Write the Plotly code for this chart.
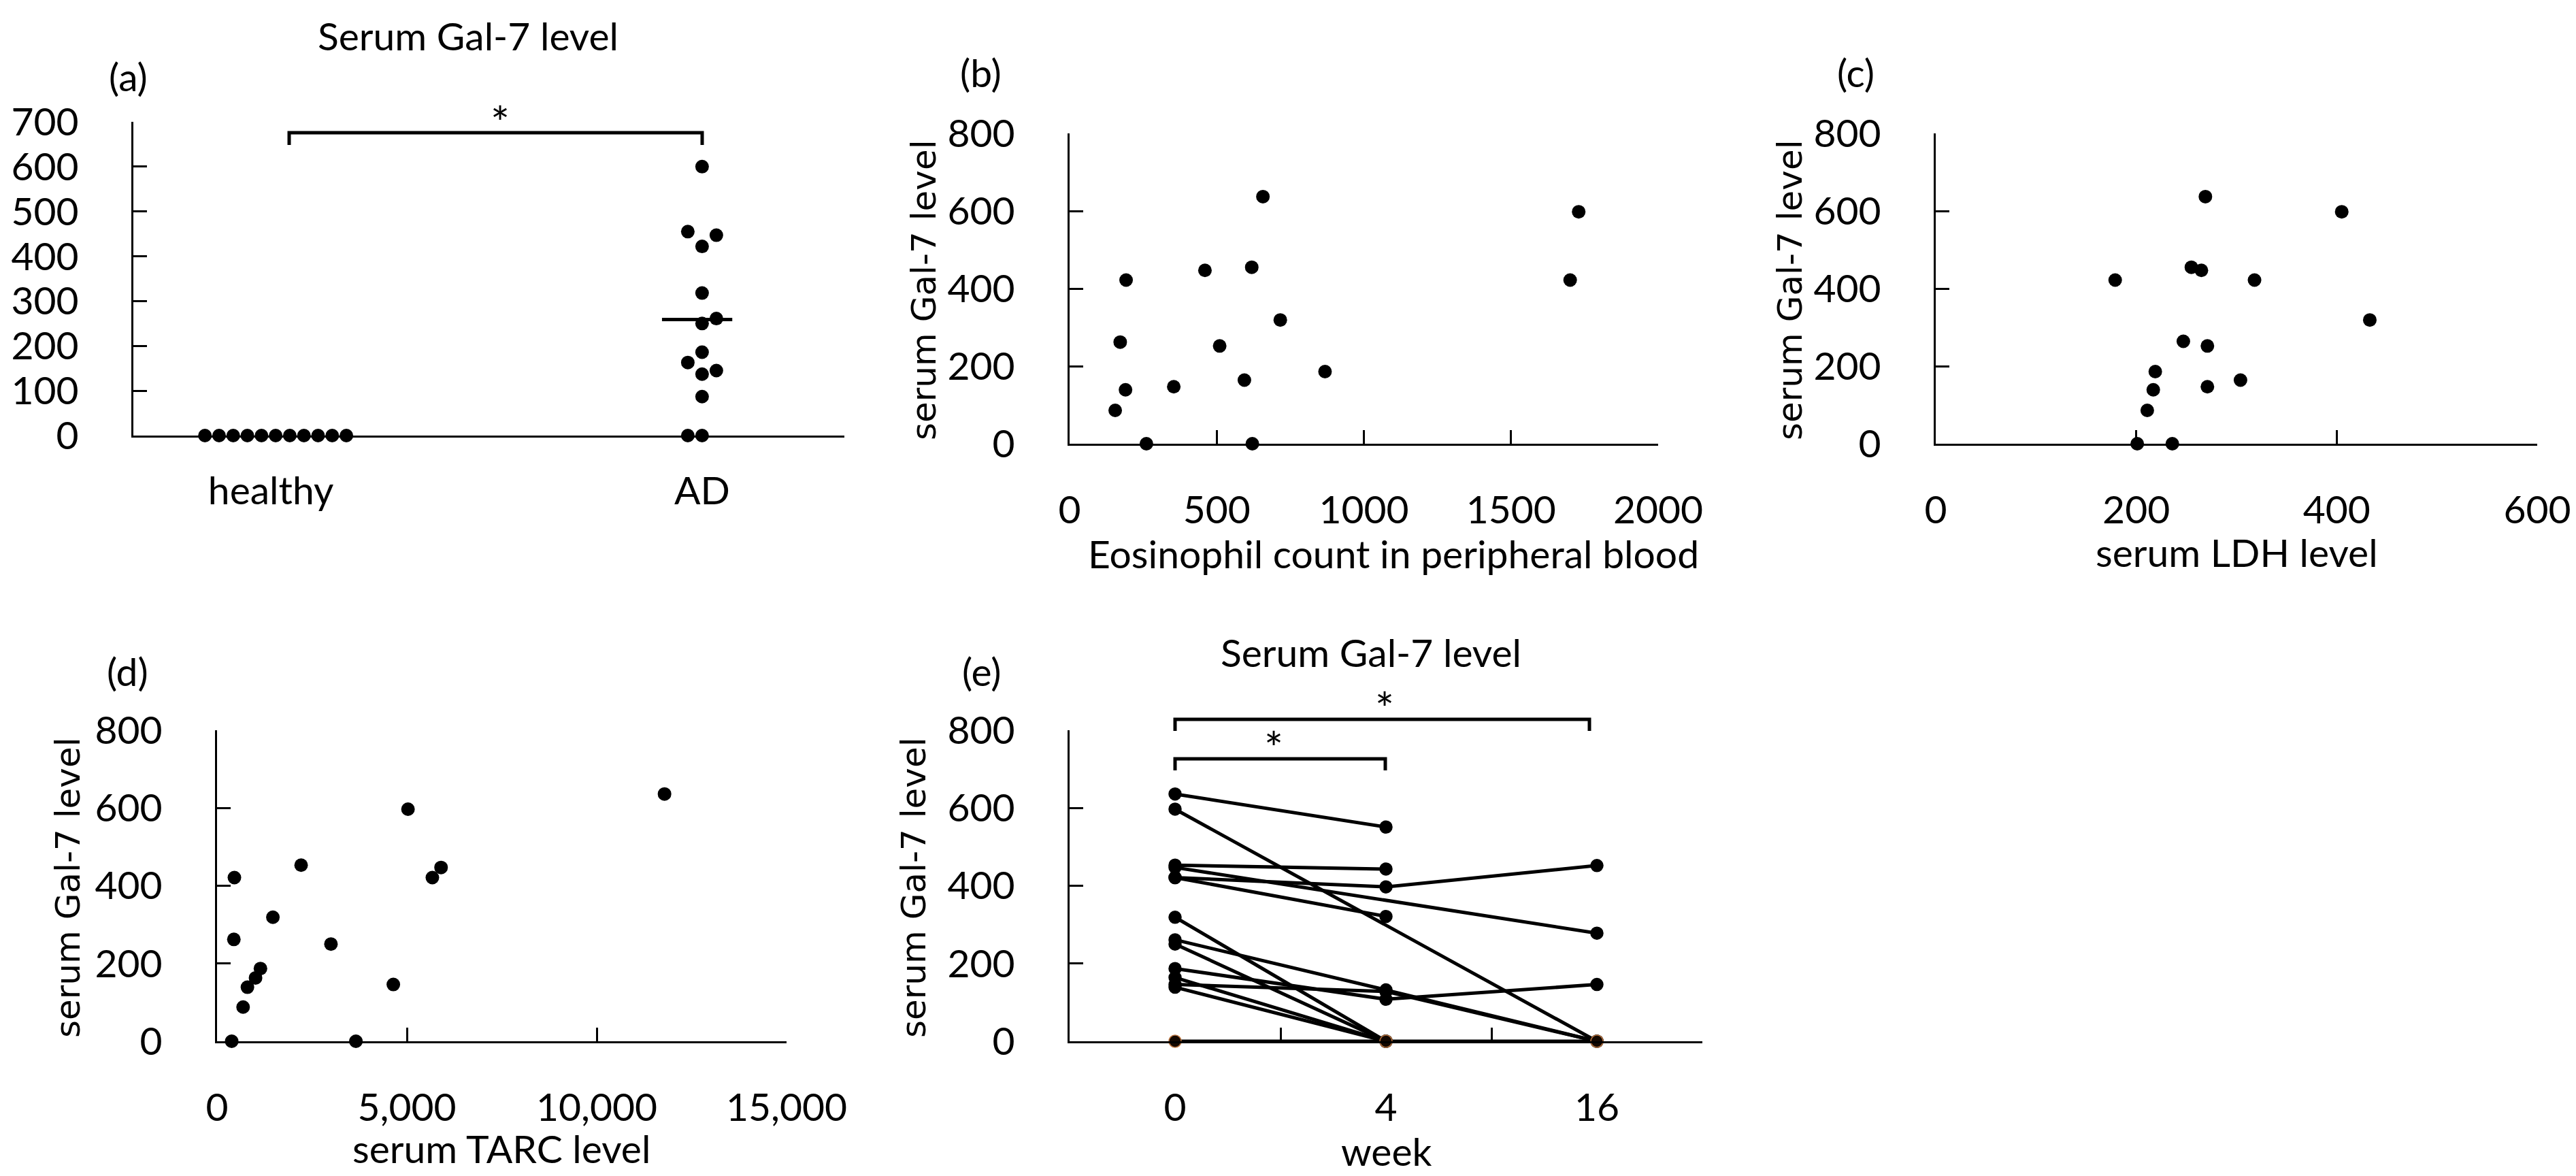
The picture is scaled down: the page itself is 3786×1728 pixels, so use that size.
import plotly.graph_objects as go

# ---- data ----
healthy_vals = [0, 0, 0, 0, 0, 0, 0, 0, 0, 0, 0]
ad_vals = [600, 455, 447, 422, 318, 261, 250, 186, 163, 145, 137, 87, 0, 0]
ad_slot = [0, -1, 1, 0, 0, 1, 0, 0, -1, 1, 0, 0, -1, 0]   # beeswarm column
ad_median = 259
groups = ["healthy", "AD"]

eos_count = [657, 1730, 460, 619, 192, 1701, 716, 172, 510, 868, 594, 354, 190, 155, 261, 621]
eos_gal7 = [637, 598, 447, 455, 422, 422, 319, 262, 252, 186, 164, 147, 139, 86, 0, 0]

ldh_level = [269, 405, 255, 265, 179, 318, 433, 247, 271, 219, 304, 271, 217, 211, 201, 236]
ldh_gal7 = [637, 598, 455, 447, 422, 422, 319, 264, 252, 186, 164, 147, 139, 86, 0, 0]

tarc_level = [11786, 5029, 2214, 5900, 5671, 457, 1471, 443, 3000, 1143, 1014, 4643, 800, 686, 386, 3657]
tarc_gal7 = [636, 597, 453, 447, 421, 421, 319, 262, 250, 187, 163, 146, 139, 88, 0, 0]

weeks = ["0", "4", "16"]
patients = [
    [636, 551, None],
    [597, None, 0],
    [453, 443, None],
    [447, None, 278],
    [421, 397, 452],
    [421, 321, None],
    [319, 0, None],
    [261, 132, 0],
    [250, 0, None],
    [187, 108, 146],
    [164, 0, None],
    [146, 128, 0],
    [139, 0, None],
    [0, 0, 0],
]

# ---- layout helpers (pixel boxes on a 3786x1728 page) ----
W, H = 3786, 1728
CAL = "Lato, Carlito, Calibri, sans-serif"
VER = "DejaVu Sans, Verdana, sans-serif"


def px(x):
    return x / W


def py(y):
    return 1 - y / H


boxes = {  # x0, x1, ytop, ybottom
    "a": (188, 1233, 171, 632),
    "b": (1564, 2429, 188, 644),
    "c": (2837, 3721, 188, 644),
    "d": (311, 1148, 1065, 1522),
    "e": (1564, 2494, 1065, 1522),
}

fig = go.Figure()
dot = dict(color="black", size=20)

# (a) dot plot
step = 0.0328
hx = [0.011 + (i - (len(healthy_vals) - 1) / 2) * step for i in range(len(healthy_vals))]
fig.add_trace(go.Scatter(x=hx, y=healthy_vals, mode="markers", marker=dot,
                         xaxis="x", yaxis="y", cliponaxis=False))
fig.add_trace(go.Scatter(x=[1 + s * 0.0331 for s in ad_slot], y=ad_vals, mode="markers",
                         marker=dot, xaxis="x", yaxis="y", cliponaxis=False))
fig.add_trace(go.Scatter(x=[0.907, 1.07], y=[ad_median, ad_median], mode="lines",
                         line=dict(color="black", width=5), xaxis="x", yaxis="y"))

# (b)-(d) scatter plots
fig.add_trace(go.Scatter(x=eos_count, y=eos_gal7, mode="markers", marker=dot,
                         xaxis="x2", yaxis="y2", cliponaxis=False))
fig.add_trace(go.Scatter(x=ldh_level, y=ldh_gal7, mode="markers", marker=dot,
                         xaxis="x3", yaxis="y3", cliponaxis=False))
fig.add_trace(go.Scatter(x=tarc_level, y=tarc_gal7, mode="markers", marker=dot,
                         xaxis="x4", yaxis="y4", cliponaxis=False))

# (e) paired lines
for i, p in enumerate(patients):
    zero = all(v == 0 for v in p)
    fig.add_trace(go.Scatter(
        x=weeks, y=p, mode="lines+markers", connectgaps=True,
        line=dict(color="black", width=5),
        marker=dict(color="#140800" if zero else "black", size=18,
                    line=dict(color="#b8733f" if zero else "black", width=1.5)),
        xaxis="x5", yaxis="y5", cliponaxis=False))

axis_common = dict(showline=True, linecolor="black", linewidth=3, showgrid=False,
                   zeroline=False, ticks="inside", ticklen=20, tickwidth=3,
                   automargin=False, tickcolor="black",
                   tickfont=dict(family=CAL, size=57, color="black"))

layout = dict(width=W, height=H, showlegend=False, plot_bgcolor="white",
              paper_bgcolor="white", margin=dict(l=0, r=0, t=0, b=0, pad=0),
              template="none")

names = ["a", "b", "c", "d", "e"]
for k, n in enumerate(names):
    x0, x1, yt, yb = boxes[n]
    sx = "" if k == 0 else str(k + 1)
    layout["xaxis" + sx] = dict(axis_common, domain=[px(x0), px(x1)], anchor="y" + sx,
                                ticklabelstandoff=46)
    layout["yaxis" + sx] = dict(axis_common, domain=[py(yb), py(yt)], anchor="x" + sx,
                                ticklabelstandoff=66)

layout["xaxis"].update(range=[-0.319, 1.33], tickvals=[0, 1], ticktext=groups,
                       ticks="", ticklabelstandoff=30)
layout["yaxis"].update(range=[0, 700], dtick=100)
layout["xaxis2"].update(range=[0, 2000], dtick=500)
layout["yaxis2"].update(range=[0, 800], dtick=200)
layout["xaxis3"].update(range=[0, 600], dtick=200)
layout["yaxis3"].update(range=[0, 800], dtick=200)
layout["xaxis4"].update(range=[0, 15000], dtick=5000, tickformat=",")
layout["yaxis4"].update(range=[0, 800], dtick=200)
layout["xaxis5"].update(type="category", range=[-0.5, 2.5], tickson="boundaries")
layout["yaxis5"].update(range=[0, 800], dtick=200)

fig.update_layout(**layout)


def note(text, x, y, family=CAL, size=57, angle=0):
    fig.add_annotation(text=text, x=px(x), y=py(y), xref="paper", yref="paper",
                       showarrow=False, textangle=angle, xanchor="center",
                       yanchor="middle", font=dict(family=family, size=size, color="black"))


note("Serum Gal-7 level", 680, 44)
note("(a)", 180, 104)
note("(b)", 1433, 98)
note("(c)", 2719, 98)
note("(d)", 179, 978)
note("(e)", 1435, 978)
note("Serum Gal-7 level", 2007, 950)
for xx, yy in [(1350, 418), (2623, 418), (92, 1296), (1335, 1296)]:
    note("serum Gal-7 level", xx, yy, family=VER, size=50, angle=-90)
note("Eosinophil count in peripheral blood", 2040, 805)
note("serum LDH level", 3279, 803)
note("serum TARC level", 729, 1679)
note("week", 2030, 1683)
note("*", 727, 172, size=66)
note("*", 2027, 1032, size=66)
note("*", 1864, 1090, size=66)


def bracket(x0, x1, ytop, ybot):
    fig.add_shape(type="path", xref="paper", yref="paper",
                  path=f"M {px(x0)},{py(ybot)} L {px(x0)},{py(ytop)} "
                       f"L {px(x1)},{py(ytop)} L {px(x1)},{py(ybot)}",
                  line=dict(color="black", width=5))


bracket(417, 1024, 187, 205)
bracket(1719, 2328, 1049, 1066)
bracket(1719, 2028, 1107, 1124)

fig.write_html("out.html")
